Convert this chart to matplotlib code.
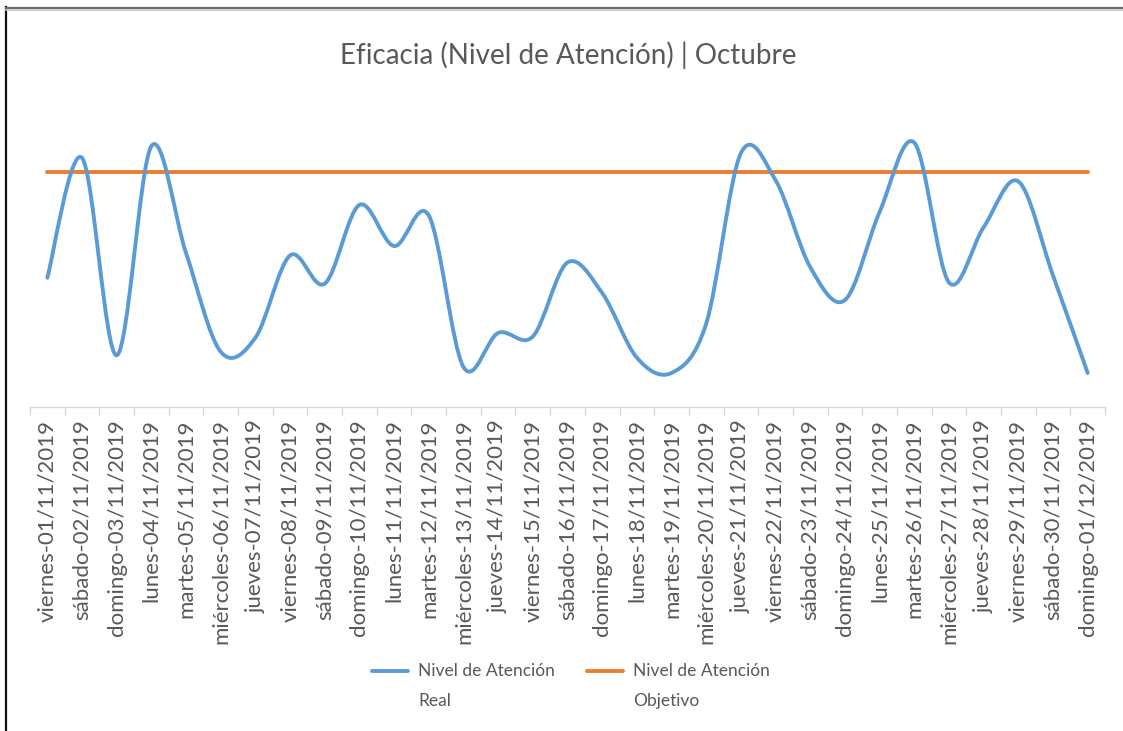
import matplotlib
matplotlib.use("Agg")
import matplotlib.pyplot as plt
from matplotlib.path import Path
from matplotlib.patches import PathPatch
from matplotlib.lines import Line2D
import numpy as np

plt.rcParams['font.family'] = ['Lato', 'DejaVu Sans']

# categorias del eje x (dia-fecha)
dias = ["viernes-01/11/2019", "sábado-02/11/2019", "domingo-03/11/2019",
        "lunes-04/11/2019", "martes-05/11/2019", "miércoles-06/11/2019",
        "jueves-07/11/2019", "viernes-08/11/2019", "sábado-09/11/2019",
        "domingo-10/11/2019", "lunes-11/11/2019", "martes-12/11/2019",
        "miércoles-13/11/2019", "jueves-14/11/2019", "viernes-15/11/2019",
        "sábado-16/11/2019", "domingo-17/11/2019", "lunes-18/11/2019",
        "martes-19/11/2019", "miércoles-20/11/2019", "jueves-21/11/2019",
        "viernes-22/11/2019", "sábado-23/11/2019", "domingo-24/11/2019",
        "lunes-25/11/2019", "martes-26/11/2019", "miércoles-27/11/2019",
        "jueves-28/11/2019", "viernes-29/11/2019", "sábado-30/11/2019",
        "domingo-01/12/2019"]

nivel_real = [0.810, 0.912, 0.744, 0.922, 0.831, 0.747, 0.759, 0.829,
              0.805, 0.872, 0.837, 0.863, 0.734, 0.763, 0.760, 0.823,
              0.797, 0.742, 0.729, 0.771, 0.916, 0.893, 0.819, 0.791,
              0.866, 0.925, 0.806, 0.853, 0.892, 0.812, 0.729]

nivel_objetivo = [0.90] * len(dias)

AZUL = "#5B9BD5"
NARANJA = "#ED7D31"
GRIS = "#595959"


def smooth_path(xs, ys):
    # curva suavizada tipo Excel: bezier cubica con tangentes catmull-rom
    pts = np.column_stack([xs, ys]).astype(float)
    n = len(pts)
    verts = [pts[0]]
    codes = [Path.MOVETO]
    for i in range(n - 1):
        p0 = pts[i - 1] if i > 0 else pts[i]
        p1 = pts[i]
        p2 = pts[i + 1]
        p3 = pts[i + 2] if i + 2 < n else pts[i + 1]
        c1 = p1 + (p2 - p0) / 6.0
        c2 = p2 - (p3 - p1) / 6.0
        verts += [c1, c2, p2]
        codes += [Path.CURVE4] * 3
    return Path(verts, codes)


W, H = 1123, 731
fig = plt.figure(figsize=(W / 100, H / 100), dpi=100)

ax_left, ax_right = 30, 1105
ax_top, ax_bottom = 89.75, 407
ax = fig.add_axes([ax_left / W, 1 - ax_bottom / H,
                   (ax_right - ax_left) / W, (ax_bottom - ax_top) / H])

x = np.arange(len(dias))
ax.add_patch(PathPatch(smooth_path(x, nivel_real), facecolor="none",
                       edgecolor=AZUL, lw=2.8, capstyle="round",
                       joinstyle="round", zorder=3))
ax.plot(x, nivel_objetivo, color=NARANJA, lw=2.8, solid_capstyle="round",
        zorder=2)

ax.set_xlim(-0.5, len(dias) - 0.5)
ax.set_ylim(0.70, 0.97)

for s in ["top", "left", "right"]:
    ax.spines[s].set_visible(False)
ax.spines["bottom"].set_color("#d9d9d9")
ax.spines["bottom"].set_linewidth(1.0)
ax.set_yticks([])

ax.set_xticks(x)
ax.set_xticklabels(dias, rotation=90, color=GRIS, fontsize=16,
                   va="top", ha="center")
ax.tick_params(axis="x", which="major", length=0, pad=9)
ax.set_xticks(np.arange(len(dias) + 1) - 0.5, minor=True)
ax.tick_params(axis="x", which="minor", length=5.5, width=1.0,
               color="#d9d9d9", direction="out")

fig.text(568 / W, 1 - 55 / H, "Eficacia (Nivel de Atención) | Octubre",
         ha="center", va="center", fontsize=20, color=GRIS)

# leyenda
for x0, col, txt in [(372, AZUL, "Nivel de Atención\nReal"),
                     (587, NARANJA, "Nivel de Atención\nObjetivo")]:
    fig.add_artist(Line2D([x0 / W, (x0 + 36) / W], [1 - 671 / H] * 2,
                          color=col, lw=2.8, solid_capstyle="round"))
    fig.text((x0 + 46) / W, 1 - 663 / H, txt, ha="left", va="top",
             fontsize=12.5, color=GRIS, linespacing=2.05)

# marco
fig.add_artist(Line2D([6 / W, 6 / W], [0, 1 - 7 / H], color="#111111",
                      lw=1.6))
fig.add_artist(Line2D([6 / W, 1], [1 - 7.5 / H] * 2, color="#6b6b6b",
                      lw=1.6))
fig.add_artist(Line2D([6 / W, 1], [1 - 9.5 / H] * 2, color="#c8c8c8",
                      lw=1.2))

fig.savefig("out.png", dpi=100)
